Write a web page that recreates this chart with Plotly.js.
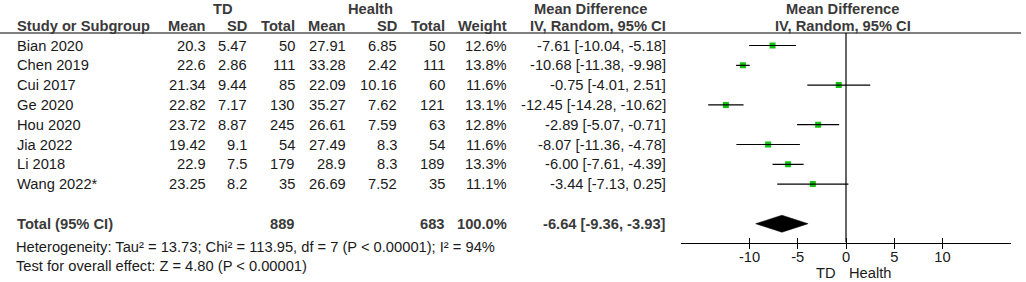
<!DOCTYPE html>
<html>
<head>
<meta charset="utf-8">
<script src="https://cdn.plot.ly/plotly-3.0.1.min.js"></script>
<style>html,body{margin:0;padding:0;background:#fff;}#chart{width:1026px;height:282px;}</style>
</head>
<body>
<div id="chart"></div>
<script>
// ---- data ----
const studies = ['Bian 2020','Chen 2019','Cui 2017','Ge 2020','Hou 2020','Jia 2022','Li 2018','Wang 2022*'];
const tdMean  = [20.3, 22.6, 21.34, 22.82, 23.72, 19.42, 22.9, 23.25];
const tdSD    = [5.47, 2.86, 9.44, 7.17, 8.87, 9.1, 7.5, 8.2];
const tdN     = [50, 111, 85, 130, 245, 54, 179, 35];
const hMean   = [27.91, 33.28, 22.09, 35.27, 26.61, 27.49, 28.9, 26.69];
const hSD     = [6.85, 2.42, 10.16, 7.62, 7.59, 8.3, 8.3, 7.52];
const hN      = [50, 111, 60, 121, 63, 54, 189, 35];
const weight  = [12.6, 13.8, 11.6, 13.1, 12.8, 11.6, 13.3, 11.1];
const md      = [-7.61, -10.68, -0.75, -12.45, -2.89, -8.07, -6.00, -3.44];
const ciLo    = [-10.04, -11.38, -4.01, -14.28, -5.07, -11.36, -7.61, -7.13];
const ciHi    = [-5.18, -9.98, 2.51, -10.62, -0.71, -4.78, -4.39, 0.25];
const totalTD = 889, totalH = 683, totalWeight = 100.0;
const pooledMD = -6.64, pooledLo = -9.36, pooledHi = -3.93;
const heterogeneity = 'Heterogeneity: Tau² = 13.73; Chi² = 113.95, df = 7 (P < 0.00001); I² = 94%';
const overallTest = 'Test for overall effect: Z = 4.80 (P < 0.00001)';
const tickVals = [-10, -5, 0, 5, 10];
const tickText = ['-10', '-5', '0', '5', '10'];
const favourLeft = 'TD', favourRight = 'Health';

// ---- layout helpers ----
const W = 1026, H = 282;
const ROW0 = 45.5, ROWSTEP = 19.8, AXIS_PX = 242.5;
const px = p => p / W;              // x pixel -> paper
const py = p => (H - p) / H;        // y pixel from top -> paper
const rowIdx = p => (p - ROW0) / ROWSTEP;
const FS = 14.7;
const FONT = 'Liberation Sans, Arial, sans-serif';
const TXT = '#1a1a1a', BOLD = '#3a3a3a';
const XR = [-17.1, 17.1];
const xDomain = [px(681), px(1011)];

const n = studies.length;
const totalRow = n + 1;
const rows = studies.map((_, i) => i);
const ciText = (m, l, h) => m.toFixed(2) + ' [' + l.toFixed(2) + ', ' + h.toFixed(2) + ']';

const ann = [];
function addText(text, xPix, anchor, y, yref, bold) {
  ann.push({
    text: bold ? '<b>' + text + '</b>' : text,
    x: px(xPix), xref: 'paper', xanchor: anchor,
    y: y, yref: yref, yanchor: 'middle',
    showarrow: false, borderpad: 0,
    font: {family: FONT, size: FS, color: bold ? BOLD : TXT}
  });
}
// header
addText('TD', 223, 'center', py(8.5), 'paper', true);
addText('Health', 370, 'center', py(8.5), 'paper', true);
addText('Mean Difference', 590, 'center', py(8.5), 'paper', true);
addText('Mean Difference', 842, 'center', py(8.5), 'paper', true);
const hdrY = py(26);
addText('Study or Subgroup', 16, 'left', hdrY, 'paper', true);
addText('Mean', 207, 'right', hdrY, 'paper', true);
addText('SD', 248, 'right', hdrY, 'paper', true);
addText('Total', 296, 'right', hdrY, 'paper', true);
addText('Mean', 347, 'right', hdrY, 'paper', true);
addText('SD', 398, 'right', hdrY, 'paper', true);
addText('Total', 446, 'right', hdrY, 'paper', true);
addText('Weight', 508, 'right', hdrY, 'paper', true);
addText('IV, Random, 95% CI', 667, 'right', hdrY, 'paper', true);
addText('IV, Random, 95% CI', 843, 'center', hdrY, 'paper', true);
// study rows
rows.forEach(i => {
  addText(studies[i], 16, 'left', i, 'y', false);
  addText(String(tdMean[i]), 207, 'right', i, 'y', false);
  addText(String(tdSD[i]), 248, 'right', i, 'y', false);
  addText(String(tdN[i]), 296, 'right', i, 'y', false);
  addText(String(hMean[i]), 347, 'right', i, 'y', false);
  addText(String(hSD[i]), 398, 'right', i, 'y', false);
  addText(String(hN[i]), 446, 'right', i, 'y', false);
  addText(weight[i].toFixed(1) + '%', 508, 'right', i, 'y', false);
  addText(ciText(md[i], ciLo[i], ciHi[i]), 667, 'right', i, 'y', false);
});
// total row
addText('Total (95% CI)', 16, 'left', totalRow, 'y', true);
addText(String(totalTD), 296, 'right', totalRow, 'y', true);
addText(String(totalH), 446, 'right', totalRow, 'y', true);
addText(totalWeight.toFixed(1) + '%', 508, 'right', totalRow, 'y', true);
addText(ciText(pooledMD, pooledLo, pooledHi), 667, 'right', totalRow, 'y', true);
addText(heterogeneity, 15, 'left', py(247), 'paper', false);
addText(overallTest, 15, 'left', py(265.5), 'paper', false);
addText(favourLeft, 837, 'right', py(273.3), 'paper', false);
addText(favourRight, 848, 'left', py(273.3), 'paper', false);

// ---- traces ----
const segX = [], segY = [];
rows.forEach(i => { segX.push(ciLo[i], ciHi[i], null); segY.push(i, i, null); });
const ciTrace = {
  type: 'scatter', mode: 'lines', x: segX, y: segY, xaxis: 'x2', yaxis: 'y',
  line: {color: '#000', width: 1.2}, hoverinfo: 'skip', showlegend: false
};
const ptTrace = {
  type: 'scatter', mode: 'markers', x: md, y: rows, xaxis: 'x', yaxis: 'y',
  marker: {symbol: 'square', size: 6, color: '#14c214', line: {width: 0}},
  showlegend: false, hoverinfo: 'skip'
};
const halfH = 0.43;
const diamond = {
  type: 'scatter', mode: 'lines', fill: 'toself', fillcolor: '#000',
  x: [pooledLo, pooledMD, pooledHi, pooledMD, pooledLo],
  y: [totalRow, totalRow - halfH, totalRow, totalRow + halfH, totalRow],
  xaxis: 'x3', yaxis: 'y',
  line: {color: '#000', width: 0.5}, showlegend: false, hoverinfo: 'skip'
};

const axisCommon = {
  domain: xDomain, range: XR, tickvals: tickVals, ticktext: tickText,
  showgrid: false, zeroline: false, ticklen: 5, tickwidth: 1, tickcolor: '#000',
  fixedrange: true, anchor: 'y'
};
const layout = {
  width: W, height: H,
  margin: {l: 0, r: 0, t: 0, b: 0, pad: 0},
  paper_bgcolor: '#fff', plot_bgcolor: '#fff',
  showlegend: false,
  xaxis: Object.assign({}, axisCommon, {
    showline: true, linecolor: '#000', linewidth: 1.2,
    ticks: '', ticklabelstandoff: 1,
    tickfont: {family: FONT, size: FS, color: TXT}
  }),
  xaxis2: Object.assign({}, axisCommon, {
    overlaying: 'x', side: 'bottom', showline: false,
    ticks: 'inside', showticklabels: false
  }),
  xaxis3: Object.assign({}, axisCommon, {
    overlaying: 'x', side: 'bottom', showline: false,
    ticks: 'outside', showticklabels: false
  }),
  yaxis: {
    domain: [py(AXIS_PX), 1], range: [rowIdx(AXIS_PX), rowIdx(0)],
    visible: false, showgrid: false, zeroline: false, fixedrange: true
  },
  shapes: [
    {type: 'line', xref: 'paper', yref: 'paper', x0: 0, x1: px(1021), y0: py(33), y1: py(33),
     line: {color: '#000', width: 1.2}},
    {type: 'line', xref: 'x', yref: 'y', x0: 0, x1: 0, y0: rowIdx(33), y1: rowIdx(AXIS_PX),
     line: {color: '#000', width: 1.2}}
  ],
  annotations: ann
};
Plotly.newPlot('chart', [ciTrace, diamond, ptTrace], layout, {displayModeBar: false, staticPlot: true});
</script>
</body>
</html>
